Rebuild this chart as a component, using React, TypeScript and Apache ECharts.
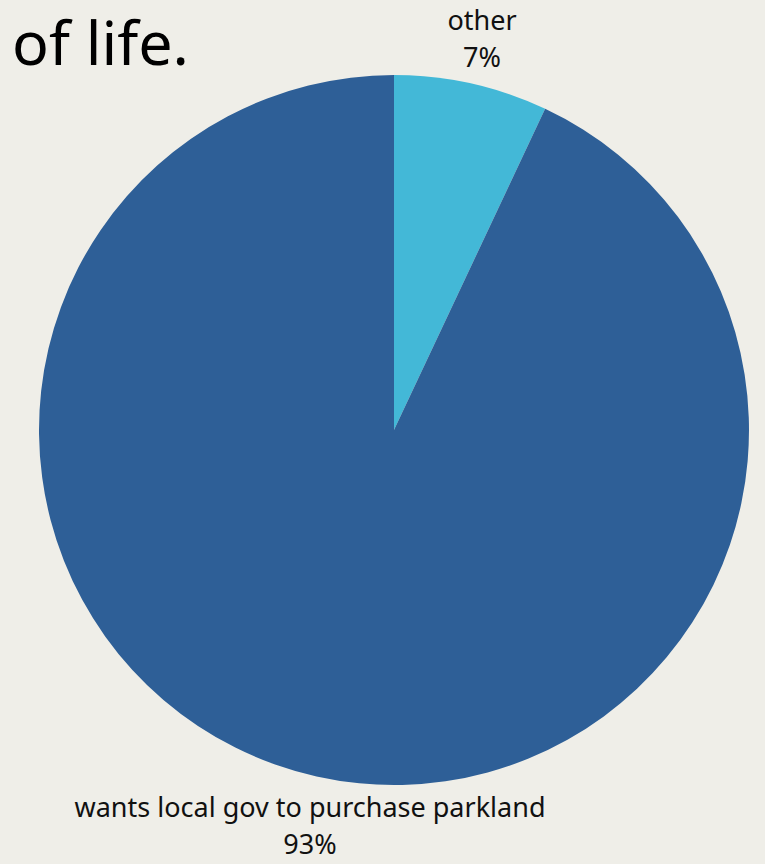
import React, { useEffect, useRef } from "react";
import * as echarts from "echarts";

const categories = ["other", "wants local gov to purchase parkland"];
const values = [7, 93];
const colors = ["#43b8d7", "#2e5f97"];
const titleText = "of life.";

export default function App() {
  const ref = useRef<HTMLDivElement>(null);
  useEffect(() => {
    const chart = echarts.init(ref.current!, null, { renderer: "svg" });
    chart.setOption({
      animation: false,
      backgroundColor: "#efeee8",
      title: {
        text: titleText,
        left: 7,
        top: -4,
        textStyle: { fontSize: 61, lineHeight: 80, fontWeight: "normal", color: "#000", fontFamily: "Noto Sans" },
      },
      series: [
        {
          type: "pie",
          center: [394, 430],
          radius: [0, 355],
          startAngle: 90,
          clockwise: true,
          data: categories.map((c, i) => ({ name: c, value: values[i], itemStyle: { color: colors[i] } })),
          label: {
            show: true,
            position: "outside",
            formatter: "{b}\n{d}%",
            fontSize: 27,
            lineHeight: 37,
            color: "#111",
            fontFamily: "Noto Sans",
            align: "center",
            overflow: "none",
            width: 650,
          },
          labelLine: { show: false },
          labelLayout: (params: any) => {
            if (params.dataIndex === 0) {
              return { x: 482, y: 38, align: "center", verticalAlign: "middle" };
            }
            return { x: 310, y: 825, align: "center", verticalAlign: "middle" };
          },
        },
      ],
    });
    return () => chart.dispose();
  }, []);
  return <div ref={ref} style={{ position: "fixed", left: 0, top: 0, width: 765, height: 864 }} />;
}
